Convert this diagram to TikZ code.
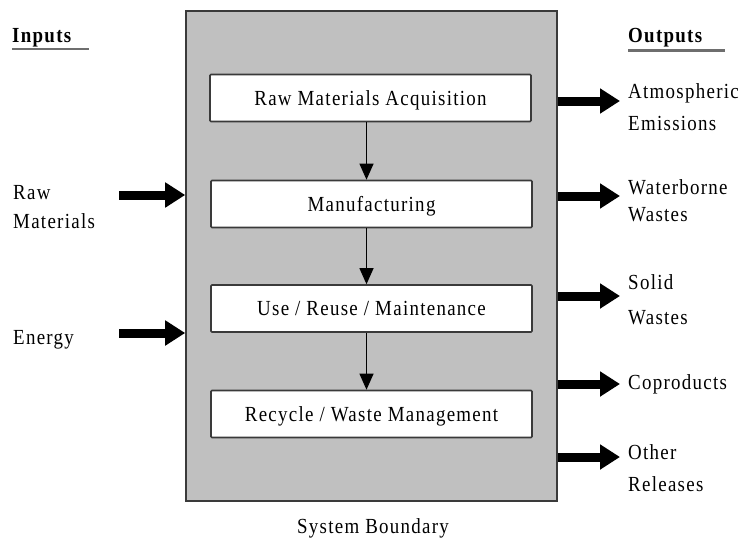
\documentclass[tikz,border=0pt]{standalone}
\usepackage{fontspec}
\setmainfont{Liberation Serif}[LetterSpace=6,FakeStretch=0.88]
\usetikzlibrary{arrows.meta}
\definecolor{boundfill}{HTML}{C0C0C0}
\definecolor{edgegray}{HTML}{3A3A3A}
\definecolor{rulegray}{HTML}{6E6E6E}

\begin{document}
\begin{tikzpicture}[x=1pt,y=-1pt,
  every node/.style={inner sep=0pt, font=\fontsize{21.5}{27}\selectfont},
  boundary/.style={draw=edgegray, line width=1.6pt, fill=boundfill,
    minimum width=371pt, minimum height=490pt},
  stage/.style={draw=edgegray, line width=1.6pt, fill=white, rounded corners=1pt,
    minimum width=321pt, minimum height=47pt, text height=14.2pt, text depth=0pt},
  flow/.style={line width=1pt, -{Triangle[width=14pt,length=16pt]}},
  bigflow/.style={line width=9pt, -{Triangle[width=24pt,length=20pt]}},
  % two-line labels are placed by the baseline of their last line
  sidelabel/.style={anchor=base west, align=left},
  heading/.style={anchor=base west, font=\fontsize{21.5}{27}\selectfont\bfseries},
  headrule/.style={draw=rulegray, line width=2.5pt}
]
\useasboundingbox (0,0) rectangle (742,541);

% system boundary and life-cycle stages
\node[boundary] (sys) at (371.5,256) {};
\node[stage] (acq) at (370.5,98)    {Raw Materials Acquisition};
\node[stage] (mfg) at (371.5,204)   {Manufacturing};
\node[stage] (use) at (371.5,308.5) {Use / Reuse / Maintenance};
\node[stage] (rec) at (371.5,414)   {Recycle / Waste Management};
\node[anchor=base] (sb) at (373,533) {System Boundary};

% stage-to-stage flow
\draw[flow] ([xshift=-4pt]acq.south) -- ([xshift=-4pt]acq.south |- mfg.north);
\draw[flow] ([xshift=-5pt]mfg.south) -- ([xshift=-5pt]mfg.north |- use.north);
\draw[flow] ([xshift=-5pt]use.south) -- ([xshift=-5pt]use.north |- rec.north);

% column headings
\node[heading] (inh)  at (12,42)  {Inputs};
\node[heading] (outh) at (628,42) {Outputs};
\draw[headrule] ([yshift=-7pt]inh.base west) -- ([xshift=77pt,yshift=-7pt]inh.base west);
\draw[headrule] ([yshift=-8.5pt]outh.base west) -- ([xshift=97pt,yshift=-8.5pt]outh.base west);

% inputs
\node[sidelabel] (rawm)   at (13,228) {Raw\\[2pt]Materials};
\node[sidelabel] (energy) at (13,344) {Energy};
\coordinate (rawtail) at (119,195);
\coordinate (entail)  at (119,333);
\draw[bigflow] (rawtail) -- (rawtail -| sys.west);
\draw[bigflow] (entail)  -- (entail -| sys.west);

% outputs
\node[sidelabel] (atmo)  at (628,130) {Atmospheric\\[5pt]Emissions};
\node[sidelabel] (water) at (628,221) {Waterborne\\Wastes};
\node[sidelabel] (solid) at (628,324) {Solid\\[8pt]Wastes};
\node[sidelabel] (copr)  at (628,389) {Coproducts};
\node[sidelabel] (other) at (628,491) {Other\\[4.5pt]Releases};
\coordinate (atmotip)  at (620,101);
\coordinate (watertip) at (620,196);
\coordinate (solidtip) at (620,296);
\coordinate (coprtip)  at (620,384);
\coordinate (othertip) at (620,457);
\draw[bigflow] (atmotip -| sys.east)  -- (atmotip);
\draw[bigflow] (watertip -| sys.east) -- (watertip);
\draw[bigflow] (solidtip -| sys.east) -- (solidtip);
\draw[bigflow] (coprtip -| sys.east)  -- (coprtip);
\draw[bigflow] (othertip -| sys.east) -- (othertip);
\end{tikzpicture}
\end{document}
